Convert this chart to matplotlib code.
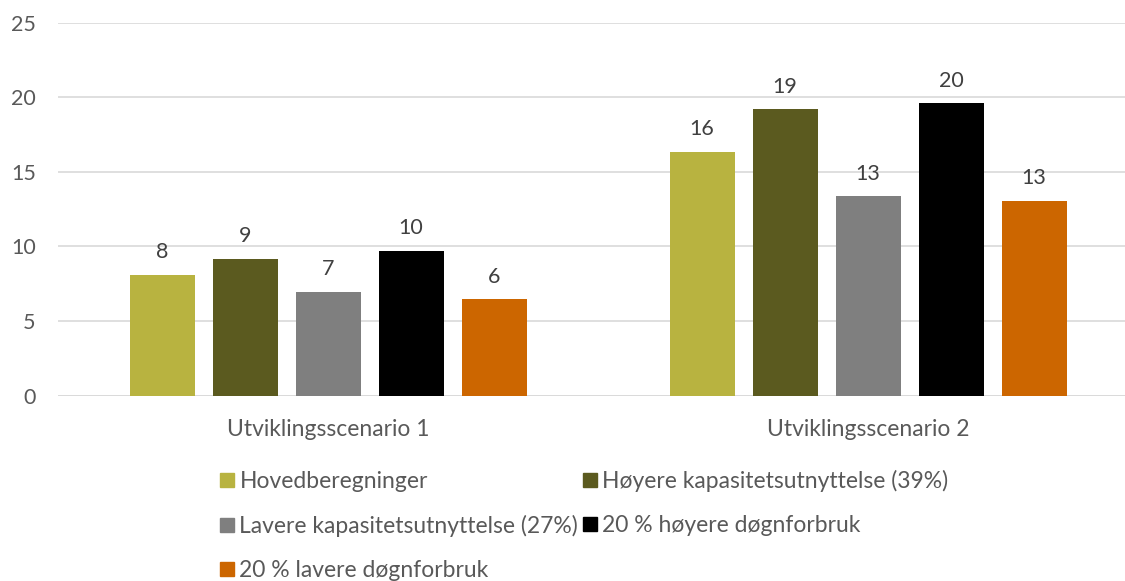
import numpy as np
import matplotlib.pyplot as plt
from matplotlib.patches import Patch

plt.rcParams['font.family'] = ['Lato', 'DejaVu Sans']

categories = ["Utviklingsscenario 1", "Utviklingsscenario 2"]
series_names = [
    "Hovedberegninger",
    "Høyere kapasitetsutnyttelse (39%)",
    "Lavere kapasitetsutnyttelse (27%)",
    "20 % høyere døgnforbruk",
    "20 % lavere døgnforbruk",
]
hoved = [8.10, 16.33]
hoyere_kap = [9.18, 19.20]
lavere_kap = [6.97, 13.37]
hoyere_dogn = [9.70, 19.60]
lavere_dogn = [6.47, 13.06]
series_values = [hoved, hoyere_kap, lavere_kap, hoyere_dogn, lavere_dogn]
colors = ["#B8B340", "#5B5A1F", "#7F7F7F", "#000000", "#CC6600"]

W, H = 1125, 581
fig = plt.figure(figsize=(W / 100, H / 100), dpi=100)
ax = fig.add_axes([58 / W, 1 - 395.5 / H, 1080 / W, (395.5 - 22.7) / H])

x = np.arange(len(categories))
pitch = 83 / 540
width = 65 / 540
for i, (vals, col) in enumerate(zip(series_values, colors)):
    b = ax.bar(x + (i - 2) * pitch, vals, width, color=col, zorder=3)
    for rect, v in zip(b, vals):
        ax.annotate(f"{v:.0f}", (rect.get_x() + rect.get_width() / 2, v),
                    xytext=(0, 9), textcoords="offset points",
                    ha="center", va="bottom", fontsize=15.5, color="#404040")

ax.set_xlim(-0.5, 1.5)
ax.set_ylim(0, 25)
ax.set_yticks(range(0, 26, 5))
ax.set_xticks(x)
ax.set_xticklabels(categories, fontsize=16.5)
ax.grid(axis="y", color="#D9D9D9", linewidth=1.2, zorder=0)
for s in ax.spines.values():
    s.set_visible(False)
ax.axhline(0, color="#D9D9D9", linewidth=1.2, zorder=2)
ax.tick_params(axis="both", length=0, labelcolor="#595959")
ax.tick_params(axis="y", pad=16, labelsize=15.5)
ax.tick_params(axis="x", pad=17)

order = [0, 2, 4, 1, 3]
handles = [Patch(color=colors[i]) for i in order]
labels = [series_names[i] for i in order]
fig.legend(handles, labels, ncol=2, loc="upper left",
           bbox_to_anchor=(220 / W, 1 - 470 / H), frameon=False,
           fontsize=16.5, labelcolor="#595959",
           handlelength=0.6, handleheight=0.6, handletextpad=0.25,
           columnspacing=0.2, labelspacing=1.0, borderpad=0, borderaxespad=0)

fig.savefig("out.png", dpi=100)
